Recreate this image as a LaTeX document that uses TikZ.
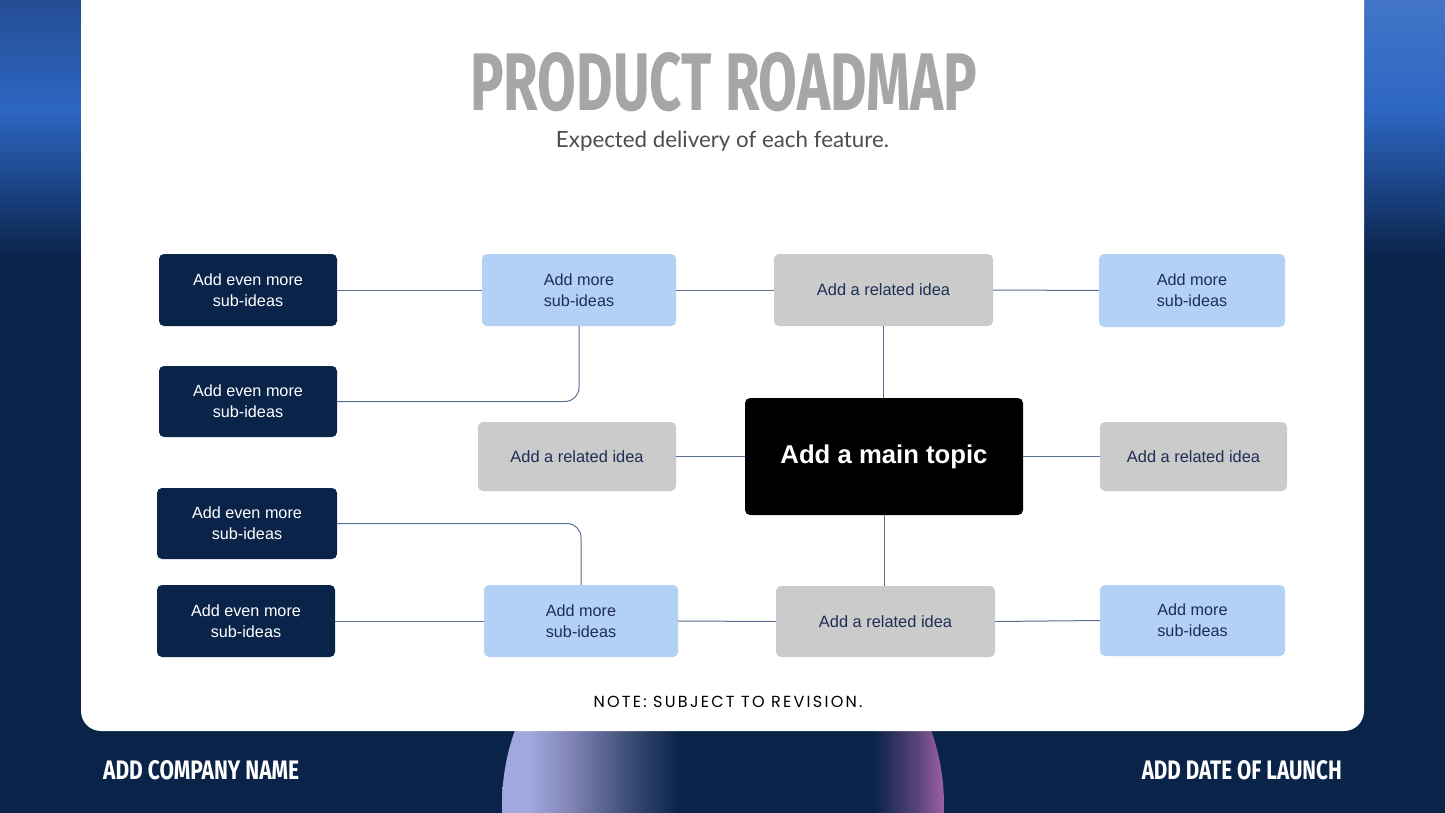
\documentclass[tikz,border=0pt]{standalone}
\usepackage{fontspec}
\setmainfont{Liberation Sans}
\newfontfamily\titlefont{Fira Sans}
\newfontfamily\subfont{Lato}
\newfontfamily\notefont[LetterSpace=14]{Poppins}
\usetikzlibrary{positioning}
\definecolor{navy}{HTML}{0A2349}
\definecolor{lightblue}{HTML}{B3D0F5}
\definecolor{boxgray}{HTML}{CBCBCB}
\definecolor{conncol}{HTML}{5B6F90}
\definecolor{textnavy}{HTML}{1E2E55}
\definecolor{titlegray}{HTML}{A6A6A6}
\definecolor{subgray}{HTML}{4D4D4D}
\definecolor{stripdark}{HTML}{244E94}
\definecolor{stripblue}{HTML}{2D66C2}
\definecolor{bubL}{HTML}{A2A8DE}
\definecolor{bubM}{HTML}{7F82B2}
\definecolor{bubN}{HTML}{3F5078}
\definecolor{bubR}{HTML}{9C60A3}
\pgfdeclarehorizontalshading{bubble}{100bp}{color(0bp)=(bubL); color(25bp)=(bubL); color(28bp)=(bubL); color(33bp)=(bubM); color(39bp)=(bubN); color(45bp)=(navy); color(67bp)=(navy); color(72bp)=(bubR!55!navy); color(75bp)=(bubR); color(100bp)=(bubR)}
\tikzset{
  box/.style={rectangle, rounded corners=5pt, inner sep=0pt, align=center},
  evenbox/.style={box, fill=navy, text=white, font=\fontsize{16.2}{21}\selectfont},
  morebox/.style={box, fill=lightblue, text=textnavy, font=\fontsize{16.2}{21}\selectfont},
  relbox/.style={box, fill=boxgray, text=textnavy, font=\fontsize{16.4}{21}\selectfont},
  mainbox/.style={box, fill=black, text=white, font=\fontsize{25.7}{30}\selectfont\bfseries},
  conn/.style={draw=conncol, line width=1pt},
}
\begin{document}
\begin{tikzpicture}[x=1pt,y=-1pt]
\useasboundingbox (0,0) rectangle (1445,813);
% background
\fill[navy] (0,0) rectangle (1445,813);
\shade[top color=stripdark, bottom color=stripblue] (0,0) rectangle (81,110);
\shade[top color=stripblue, bottom color=navy] (0,110) rectangle (81,260);
\shade[top color=stripblue!90!white, bottom color=stripblue] (1364,0) rectangle (1445,110);
\shade[top color=stripblue, bottom color=navy] (1364,110) rectangle (1445,260);
% bubble
\begin{scope}
  \clip (0,731) rectangle (1445,813);
  \shade[shading=bubble] (723,805) circle (221);
\end{scope}
% white panel
\fill[white, rounded corners=20pt] (81,-40) rectangle (1364,731);
% title
\node[anchor=north west, inner sep=0pt, text=titlegray] (title) at (470,52)
  {\resizebox{507pt}{58pt}{\titlefont\bfseries PRODUCT ROADMAP}};
\node[inner sep=0pt, text=subgray] (subtitle) at (722.5,141)
  {\resizebox{333pt}{!}{\subfont\fontsize{20}{24}\selectfont Expected delivery of each feature.}};
% nodes
\node[evenbox, minimum width=178, minimum height=72] (E1) at (248,290) {Add even more\\sub-ideas};
\node[evenbox, minimum width=178, minimum height=71] (E2) at (248,401.5) {Add even more\\sub-ideas};
\node[evenbox, minimum width=180, minimum height=71] (E3) at (247,523.5) {Add even more\\sub-ideas};
\node[evenbox, minimum width=178, minimum height=72] (E4) at (246,621) {Add even more\\sub-ideas};
\node[morebox, minimum width=194, minimum height=72] (S1) at (579,290) {Add more\\sub-ideas};
\node[morebox, minimum width=194, minimum height=72] (S2) at (581,621) {Add more\\sub-ideas};
\node[morebox, minimum width=186, minimum height=73] (S3) at (1192,290.5) {Add more\\sub-ideas};
\node[morebox, minimum width=185, minimum height=71] (S4) at (1192.5,620.5) {Add more\\sub-ideas};
\node[relbox, minimum width=219, minimum height=72] (R1) at (883.5,290) {Add a related idea};
\node[relbox, minimum width=198, minimum height=69] (R2) at (577,456.5) {Add a related idea};
\node[relbox, minimum width=187, minimum height=69] (R3) at (1193.5,456.5) {Add a related idea};
\node[relbox, minimum width=219, minimum height=71] (R4) at (885.5,621.5) {Add a related idea};
\node[mainbox, minimum width=278, minimum height=117] (M) at (884,456.5) {Add a main topic};
% connectors
\draw[conn] (E1.east) -- (S1.west);
\draw[conn] (S1.east) -- (R1.west);
\draw[conn] (R1.east) -- (S3.west);
\draw[conn] (R1.south) -- (M.north -| R1.south);
\draw[conn] (R2.east) -- (M.west);
\draw[conn] (M.east) -- (R3.west);
\draw[conn] (M.south) -- (R4.north -| M.south);
\draw[conn, rounded corners=14pt] (S1.south) |- (E2.east);
\draw[conn, rounded corners=14pt] (E3.east) -| (S2.north);
\draw[conn] (E4.east) -- (S2.west);
\draw[conn] (S2.east) -- (R4.west);
\draw[conn] (R4.east) -- (S4.west);
% note
\node[inner sep=0pt, text=black] (note) at (728,702)
  {\resizebox{269pt}{!}{\notefont\fontsize{16}{20}\selectfont NOTE: SUBJECT TO REVISION.}};
% footer
\node[anchor=west, inner sep=0pt, text=white] (company) at (103,770.5)
  {\resizebox{196pt}{19pt}{\titlefont\bfseries ADD COMPANY NAME}};
\node[anchor=east, inner sep=0pt, text=white] (launch) at (1342,770.5)
  {\resizebox{200pt}{19pt}{\titlefont\bfseries ADD DATE OF LAUNCH}};
\end{tikzpicture}
\end{document}
